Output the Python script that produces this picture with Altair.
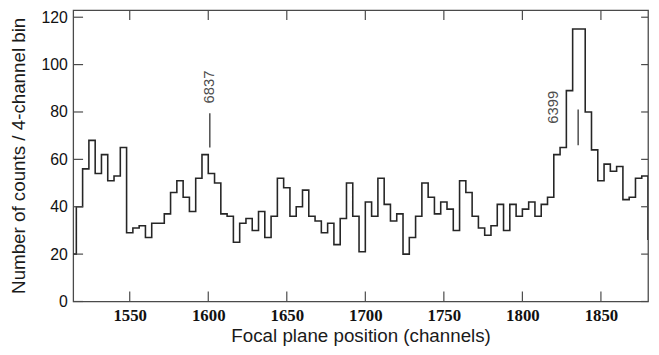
import altair as alt
import pandas as pd

# 4-channel bin starts (channels) and counts per bin
bin_start = list(range(1512, 1884, 4))
counts = [
    20, 40, 56, 68, 54, 62, 51, 53, 65, 29,
    31, 32, 27, 33, 33, 37, 46, 51, 44, 38,
    52, 62, 54, 50, 37, 36, 25, 33, 35, 30,
    38, 27, 36, 52, 48, 36, 40, 47, 36, 34,
    29, 33, 24, 35, 50, 36, 21, 42, 36, 52,
    41, 34, 37, 20, 27, 36, 50, 44, 37, 42,
    39, 30, 51, 46, 36, 31, 28, 32, 41, 30,
    41, 36, 39, 42, 36, 41, 44, 62, 65, 89,
    115, 115, 80, 64, 51, 58, 55, 57, 43, 44,
    52, 53, 26,
]
assert len(bin_start) == len(counts)

x_ticks = [1550, 1600, 1650, 1700, 1750, 1800, 1850]
y_ticks = [0, 20, 40, 60, 80, 100, 120]

ann_labels = ["6837", "6399"]
ann_text_x = [1600.5, 1819.5]
ann_text_y = [90.5, 82]
ann_line_x = [1601, 1835.5]
ann_line_y1 = [65, 66]
ann_line_y2 = [79.5, 81]

W, H = 582, 295
FRAME = "#4a4a4a"

df = pd.DataFrame({"ch": bin_start, "n": counts})
xs = alt.Scale(domain=[1514, 1880], nice=False, zero=False)
ys = alt.Scale(domain=[0, 123], nice=False)

xaxis = alt.Axis(
    values=x_ticks, ticks=False, tickSize=0, domain=False, grid=False,
    labelFont="Liberation Serif", labelFontWeight="bold", labelFontSize=17,
    labelPadding=6, labelColor="#111111", labelFlush=False, labelOverlap=False,
    format="d",
    title="Focal plane position (channels)", titleFont="Liberation Sans",
    titleFontSize=19, titleFontWeight="normal", titleColor="#1a1a1a",
    titleX=291, titleY=41, titleBaseline="alphabetic", titleAlign="center",
)
yaxis = alt.Axis(
    values=y_ticks, ticks=False, tickSize=0, domain=False, grid=False,
    labelFont="Liberation Sans", labelFontSize=16, labelPadding=6,
    labelColor="#111111", labelFlush=False, labelOverlap=False,
    title="Number of counts / 4-channel bin", titleFont="Liberation Sans",
    titleFontSize=19, titleFontWeight="normal", titleColor="#1a1a1a",
    titleX=-49.5, titleY=147, titleAngle=270, titleBaseline="alphabetic",
    titleAlign="center",
)

hist = alt.Chart(df).mark_line(
    interpolate="step-after", color="#262626", strokeWidth=1.6, clip=True
).encode(
    x=alt.X("ch:Q", scale=xs, axis=xaxis),
    y=alt.Y("n:Q", scale=ys, axis=yaxis),
)

# tick positions reuse the same field names so the shared axes merge cleanly
xt = pd.DataFrame({"ch": x_ticks})
yt = pd.DataFrame({"n": y_ticks})
rule_kw = dict(color=FRAME, strokeWidth=1.2)

top_ticks = alt.Chart(xt).mark_rule(**rule_kw).encode(
    x=alt.X("ch:Q", scale=xs, axis=xaxis), y=alt.value(0), y2=alt.value(10))
bot_ticks = alt.Chart(xt).mark_rule(**rule_kw).encode(
    x=alt.X("ch:Q", scale=xs, axis=xaxis), y=alt.value(H), y2=alt.value(H - 10))
left_ticks = alt.Chart(yt).mark_rule(**rule_kw).encode(
    y=alt.Y("n:Q", scale=ys, axis=yaxis), x=alt.value(0), x2=alt.value(10))
right_ticks = alt.Chart(yt).mark_rule(**rule_kw).encode(
    y=alt.Y("n:Q", scale=ys, axis=yaxis), x=alt.value(W), x2=alt.value(W - 7))

adf = pd.DataFrame({
    "label": ann_labels, "ch": ann_line_x, "n": ann_line_y1, "n2": ann_line_y2,
})
tdf = pd.DataFrame({"label": ann_labels, "ch": ann_text_x, "n": ann_text_y})

ann_lines = alt.Chart(adf).mark_rule(color="#333333", strokeWidth=1.3).encode(
    x=alt.X("ch:Q", scale=xs, axis=xaxis),
    y=alt.Y("n:Q", scale=ys, axis=yaxis),
    y2="n2:Q",
)
ann_text = alt.Chart(tdf).mark_text(
    angle=270, font="Liberation Sans", fontSize=15, color="#4d4d4d",
    align="center", baseline="middle",
).encode(
    x=alt.X("ch:Q", scale=xs, axis=xaxis),
    y=alt.Y("n:Q", scale=ys, axis=yaxis),
    text="label:N",
)

chart = alt.layer(
    hist, top_ticks, bot_ticks, left_ticks, right_ticks, ann_lines, ann_text
).properties(
    width=W, height=H,
    padding={"left": 66, "top": 0, "right": 3, "bottom": 50},
    autosize=alt.AutoSizeParams(type="none"),
    background="white",
).configure_view(stroke=FRAME, strokeWidth=1.3)

chart.save("out.html", embed_options={"renderer": "svg", "actions": False})
